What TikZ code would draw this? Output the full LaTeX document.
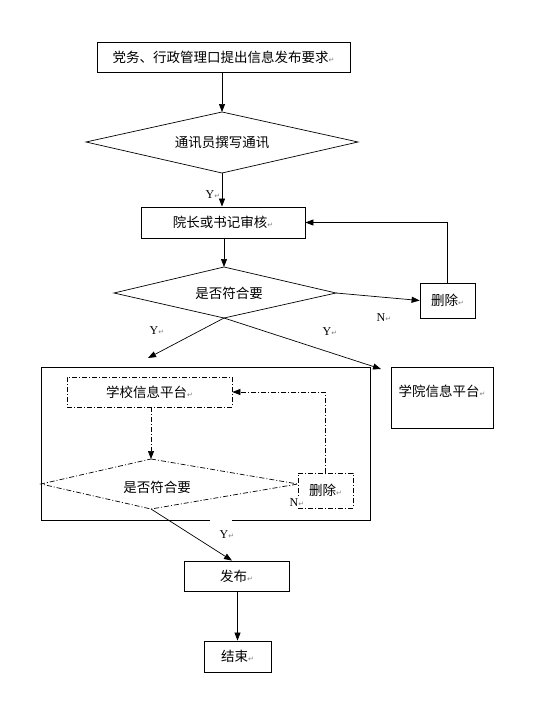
\documentclass[tikz,border=0pt]{standalone}
\usepackage{fontspec}
\usetikzlibrary{arrows.meta}
\setmainfont{Liberation Serif}
\newfontfamily\cjk{Noto Sans CJK SC}
\newfontfamily\dejavu{DejaVu Sans}
\newcommand\retmark{{\dejavu\fontsize{7}{7}\selectfont\color{gray}↵}}
\begin{document}
\begin{tikzpicture}[x=1pt,y=-1pt,
  box/.style={draw,line width=0.8pt,inner sep=0pt,fill=white,font=\cjk\fontsize{13.5}{14}\selectfont},
  ddbox/.style={box,dd,line width=0.7pt},
  arr/.style={-{Triangle[length=8pt,width=6pt]},line width=0.7pt},
  dd/.style={dash pattern=on 5pt off 2pt on 1pt off 2pt},
  txt/.style={inner sep=0pt,font=\cjk\fontsize{13.5}{14}\selectfont},
  lab/.style={inner sep=1pt,font=\fontsize{12}{12}\selectfont}]
\fill[white] (0,0) rectangle (536,701);
\useasboundingbox (0,0) rectangle (536,701);

% top request box
\node[box,minimum width=253pt,minimum height=30pt] (req) at (223.5,57) {党务、行政管理口提出信息发布要求\retmark};

% diamond 1
\coordinate (d1t) at (222,112);
\coordinate (d1r) at (358,142);
\coordinate (d1b) at (222,173);
\coordinate (d1l) at (86,142);
\draw[line width=0.7pt] (d1t) -- (d1r) -- (d1b) -- (d1l) -- cycle;
\node[txt] (d1) at (222,142) {通讯员撰写通讯};
\draw[arr] (d1t |- req.south) -- (d1t);

% review box
\node[box,minimum width=164pt,minimum height=31pt] (review) at (223,222.5) {院长或书记审核\retmark};
\draw[arr] (d1b) -- (d1b |- review.north);
\node[lab] (y1) at (213,195) {Y\retmark};

% diamond 2
\coordinate (d2t) at (224,267);
\coordinate (d2r) at (336,293);
\coordinate (d2b) at (224,318);
\coordinate (d2l) at (114,293);
\draw[arr] (d2t |- review.south) -- (d2t);
\draw[line width=0.7pt] (d2t) -- (d2r) -- (d2b) -- (d2l) -- cycle;
\node[txt] (d2) at (229,293) {是否符合要};

% delete box 1
\node[box,minimum width=55pt,minimum height=35pt] (del1) at (447.5,300.5) {删除\retmark};
\draw[arr] (d2r) -- (del1.west);
\draw[arr] (del1.north) |- (review.east);
\node[lab] (n1) at (384,318) {N\retmark};

% Y branches
\coordinate (ly) at (148,358);
\coordinate (ry) at (381,369);
\draw[arr] (d2b) -- (ly);
\draw[arr] (d2b) -- (ry);
\node[lab] (y2) at (157,331) {Y\retmark};
\node[lab] (y3) at (330,332) {Y\retmark};

% big frame
\draw[line width=0.8pt] (210,520) -- (41,520) -- (41,367) -- (370,367) -- (370,520) -- (232,520);

% college platform
\node[draw,line width=0.8pt,minimum width=102pt,minimum height=61pt,inner sep=0pt] (college) at (442,397.5) {};
\node[txt] (collegetxt) at (442,391) {学院信息平台\retmark};

% school platform
\node[ddbox,minimum width=165pt,minimum height=30pt] (school) at (149.5,392) {学校信息平台\retmark};

% diamond 3
\coordinate (d3t) at (151,459);
\coordinate (d3r) at (298,484);
\coordinate (d3b) at (151,509);
\coordinate (d3l) at (41,484);
\draw[arr,dd] (d3t |- school.south) -- (d3t);
\draw[dd,line width=0.7pt] (d3t) -- (d3r) -- (d3b) -- (d3l) -- cycle;
\node[txt] (d3) at (157,487) {是否符合要};

% delete box 2
\node[ddbox,minimum width=55pt,minimum height=35pt] (del2) at (325.5,490.5) {删除\retmark};
\draw[arr,dd] (del2.north) |- (school.east);
\node[lab,fill=white] (n2) at (297,503) {N\retmark};

% publish
\node[box,minimum width=105pt,minimum height=30pt] (pub) at (236.5,576) {发布\retmark};
\draw[arr] (d3b) -- ([xshift=-4.5pt]pub.north);
\node[lab] (y4) at (227,535) {Y\retmark};

% end
\node[box,minimum width=67pt,minimum height=31pt] (fin) at (237.5,656.5) {结束\retmark};
\draw[arr] (fin.north |- pub.south) -- (fin.north);
\end{tikzpicture}
\end{document}
